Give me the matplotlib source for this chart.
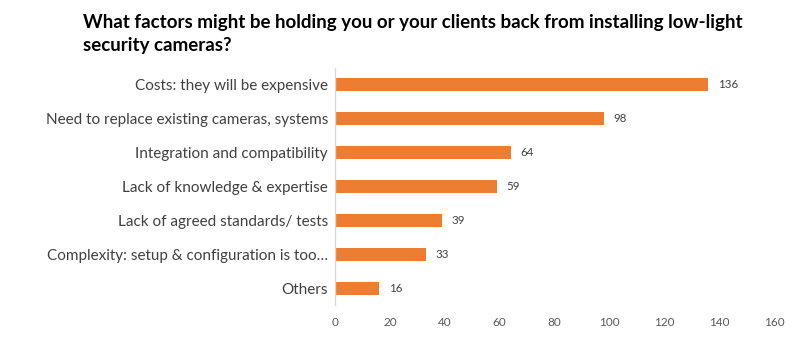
import matplotlib
matplotlib.use("Agg")
import matplotlib.pyplot as plt

categories = [
    "Costs: they will be expensive",
    "Need to replace existing cameras, systems",
    "Integration and compatibility",
    "Lack of knowledge & expertise",
    "Lack of agreed standards/ tests",
    "Complexity: setup & configuration is too…",
    "Others",
]
values = [136, 98, 64, 59, 39, 33, 16]
x_ticks = [0, 20, 40, 60, 80, 100, 120, 140, 160]
title = "What factors might be holding you or your clients back from installing low-light\nsecurity cameras?"

plt.rcParams['font.family'] = ['Lato', 'DejaVu Sans']

fig = plt.figure(figsize=(8, 3.4), dpi=100)
ax = fig.add_axes([335/800, 1-305/340, (774-335)/800, (305-68)/340])

ypos = list(range(len(categories)))
ax.barh(ypos, values, height=0.38, color="#ED7D31")
ax.set_ylim(len(categories)-0.5, -0.5)
ax.set_xlim(0, 160)
ax.set_xticks(x_ticks)
ax.set_xticklabels([str(t) for t in x_ticks], fontsize=8.5, color="#595959")
ax.set_yticks(ypos)
ax.set_yticklabels(categories, fontsize=11, color="#404040")
ax.tick_params(axis='both', length=0)
ax.tick_params(axis='x', pad=9)
ax.tick_params(axis='y', pad=5)
for s in ['top', 'right', 'bottom']:
    ax.spines[s].set_visible(False)
ax.spines['left'].set_color("#D9D9D9")
ax.spines['left'].set_linewidth(1)

for y, v in zip(ypos, values):
    ax.annotate(str(v), (v, y), xytext=(7, 0), textcoords='offset points',
                va='center', ha='left', fontsize=8.3, color="#404040")

fig.text(83/800, 1-14/340, title, ha='left', va='top', fontsize=13.5,
         fontweight='bold', color='black', linespacing=1.45)

fig.savefig("out.png", dpi=100, facecolor='white')
